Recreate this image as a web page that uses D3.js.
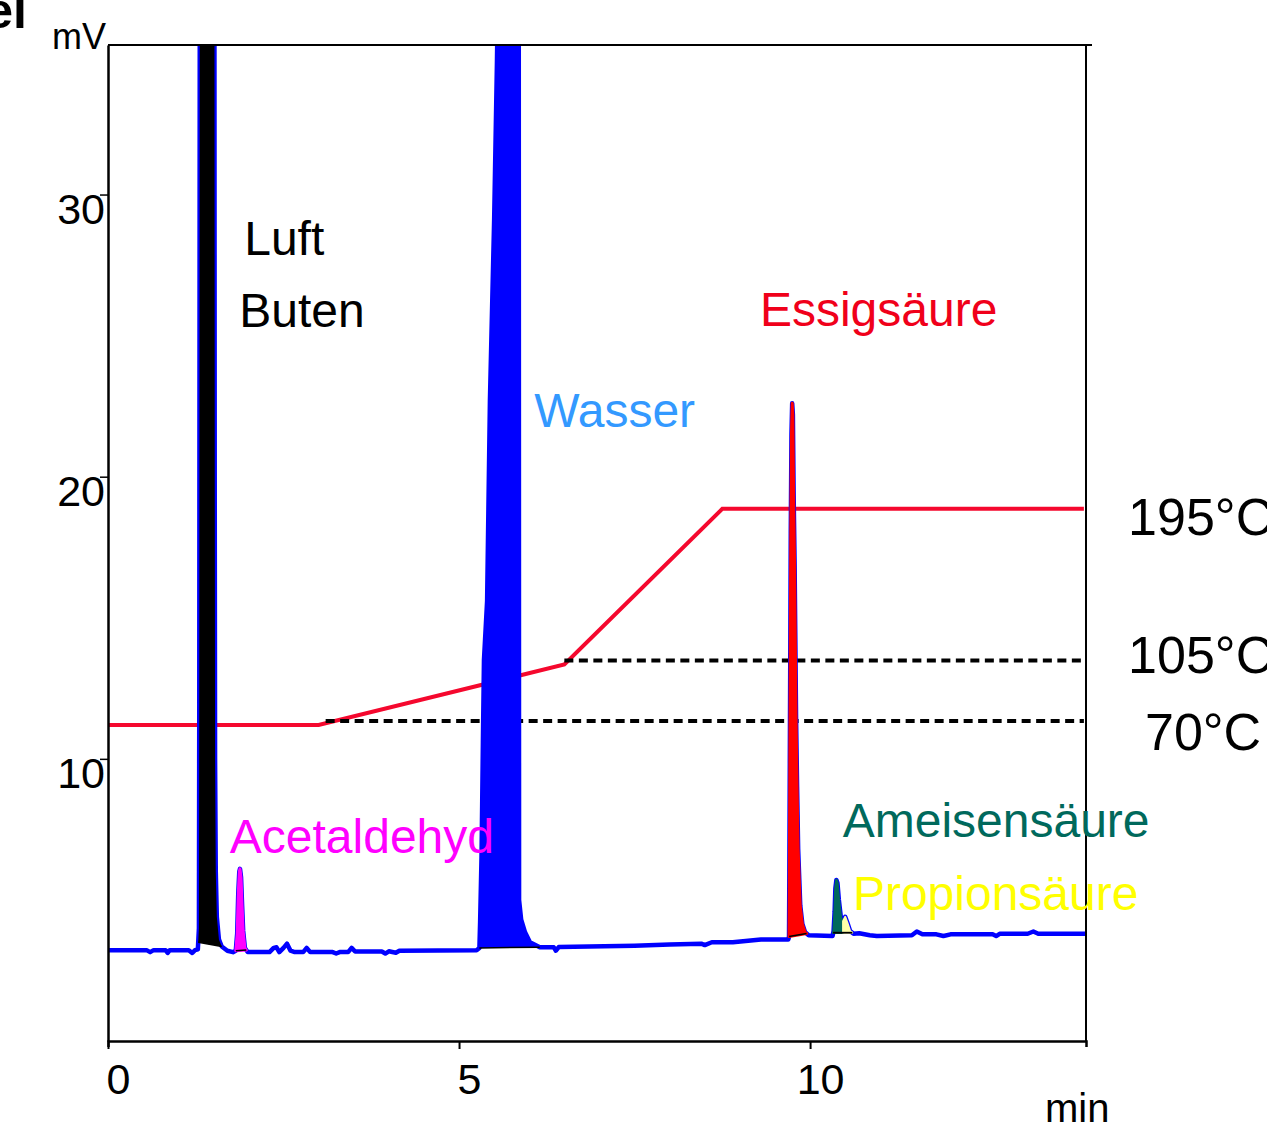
<!DOCTYPE html>
<html>
<head>
<meta charset="utf-8">
<script src="https://cdn.jsdelivr.net/npm/d3@7"></script>
<style>
body { margin: 0; background: #fff; }
svg { display: block; font-family: "Liberation Sans", Arial, sans-serif; }
</style>
</head>
<body>
<svg width="1267" height="1132"></svg>
<script>
// axis ticks
var xTicks = [0, 5, 10]
var yTicks = [10, 20, 30]

// detector signal, [min, mV]
var signal = [
	[0.00, 3.22], [0.55, 3.22], [0.60, 3.15], [0.65, 3.22], [0.82, 3.22], [0.85, 3.12], [0.88, 3.22],
	[1.15, 3.22], [1.20, 3.12], [1.24, 3.22], [1.28, 3.25],
	[1.295, 4.0], [1.30, 12], [1.305, 30], [1.31, 45], [1.33, 60], [1.50, 60], [1.515, 40], [1.52, 20],
	[1.525, 10], [1.535, 6], [1.55, 4.4], [1.58, 3.6], [1.62, 3.35], [1.70, 3.2], [1.78, 3.15],
	[1.82, 3.2], [1.84, 3.8], [1.855, 5.2], [1.87, 6.0], [1.88, 6.1], [1.895, 5.8], [1.91, 4.8],
	[1.925, 3.9], [1.95, 3.3], [1.99, 3.15],
	[2.30, 3.15], [2.36, 3.3], [2.40, 3.32], [2.44, 3.15], [2.50, 3.3], [2.55, 3.45], [2.60, 3.2],
	[2.66, 3.15], [2.78, 3.15], [2.83, 3.3], [2.88, 3.15], [3.20, 3.15], [3.25, 3.1], [3.30, 3.15],
	[3.42, 3.15], [3.47, 3.3], [3.52, 3.17], [3.90, 3.17], [3.95, 3.1], [4.00, 3.18], [4.10, 3.13],
	[4.15, 3.2], [5.25, 3.22],
	[5.29, 3.3], [5.30, 4.2], [5.32, 6.5], [5.33, 8.5], [5.34, 10.6], [5.355, 13.5], [5.40, 15.6],
	[5.44, 22.7], [5.50, 29.1], [5.54, 34.7], [5.57, 40], [5.85, 40], [5.855, 5.0], [5.885, 4.3],
	[5.94, 3.85], [6.01, 3.5], [6.15, 3.32],
	[6.35, 3.32], [6.38, 3.2], [6.42, 3.33], [7.50, 3.38], [8.00, 3.42], [8.45, 3.45], [8.50, 3.4],
	[8.60, 3.5], [8.90, 3.5], [9.30, 3.6], [9.60, 3.6], [9.69, 3.6],
	[9.70, 3.7], [9.705, 6], [9.715, 12], [9.725, 18], [9.735, 21.5], [9.745, 22.6], [9.755, 22.2],
	[9.765, 19.5], [9.78, 16.8], [9.80, 11.5], [9.815, 9], [9.83, 6.8], [9.86, 4.8], [9.89, 4.15],
	[9.93, 3.85], [9.98, 3.75], [10.32, 3.72],
	[10.335, 3.9], [10.35, 4.6], [10.36, 5.4], [10.375, 5.71], [10.39, 5.6], [10.41, 5.0], [10.44, 4.35],
	[10.47, 4.25], [10.50, 4.40], [10.53, 4.2], [10.57, 3.9], [10.62, 3.8], [10.70, 3.82],
	[10.85, 3.75], [10.95, 3.72], [11.45, 3.75], [11.52, 3.88], [11.60, 3.78], [11.80, 3.78],
	[11.90, 3.72], [12.00, 3.78], [12.60, 3.78], [12.65, 3.72], [12.70, 3.8], [13.10, 3.8],
	[13.18, 3.88], [13.25, 3.8], [13.93, 3.8]
]

// integrated peaks
var peakNames = ["Luft/Buten", "Acetaldehyd", "Wasser", "Essigsäure", "Ameisensäure", "Propionsäure"]
var peakStart = [1.285, 1.82, 5.29, 9.70, 10.33, 10.47]
var peakEnd = [1.62, 1.97, 6.15, 9.95, 10.47, 10.60]
var baseStart = [1.285, 1.82, 5.29, 9.70, 10.33, 10.33]
var baseEnd = [1.62, 1.97, 6.15, 9.95, 10.60, 10.60]

// oven program
var tempTimes = [0, 3, 6.5, 8.75, 13.9]
var tempValues = [70, 70, 105, 195, 195]
var holdTemps = [70, 105]
var holdFrom = [3.1, 6.5]
var tempLabels = ["195°C", "105°C", "70°C"]

// compound labels
var labelTexts = ["Luft", "Buten", "Wasser", "Essigsäure", "Acetaldehyd", "Ameisensäure", "Propionsäure"]

// styles / annotation placement
var peakFill = {"Luft/Buten": "#000000", "Acetaldehyd": "#ff00ff", "Wasser": "#0000ff",
	"Essigsäure": "#ff0000", "Ameisensäure": "#00695c", "Propionsäure": "#ffffa8"}
var peakEdge = {"Luft/Buten": 0, "Acetaldehyd": 3, "Wasser": 0, "Essigsäure": 3,
	"Ameisensäure": 2.5, "Propionsäure": 2}
var labelColor = {"Luft": "#000", "Buten": "#000", "Wasser": "#3399ff", "Essigsäure": "#f0001a",
	"Acetaldehyd": "#ff00ff", "Ameisensäure": "#00695c", "Propionsäure": "#ffff00"}
var labelAt = {"Luft": [1.94, 27.86], "Buten": [1.87, 25.31], "Wasser": [6.07, 21.76],
	"Essigsäure": [9.285, 25.34], "Acetaldehyd": [1.735, 6.66], "Ameisensäure": [10.465, 7.23],
	"Propionsäure": [10.61, 4.64]}
var tempLabelAt = {"195°C": [14.53, 17.93], "105°C": [14.53, 13.04], "70°C": [14.77, 10.31]}

var svg = d3.select("svg")
var padL = 108, padT = 45, padR = 1086, padB = 1041

var x = d3.scaleLinear().domain([0, 13.93]).range([padL, padR])
var y = d3.scaleLinear().domain([0, 35.3]).range([padB, padT])
// oven temperature drawn against the mV axis
var tScale = d3.scaleLinear().domain([70, 195]).range([11.2, 18.86])

var bis = d3.bisector(d => d[0]).left
function sig(t) {
	var i = bis(signal, t)
	if (i <= 0) return signal[0][1]
	if (i >= signal.length) return signal[signal.length - 1][1]
	var a = signal[i - 1], b = signal[i]
	return a[1] + (b[1] - a[1]) * (t - a[0]) / (b[0] - a[0])
}

svg.append("defs").append("clipPath").attr("id", "plot")
	.append("rect").attr("x", padL).attr("y", padT).attr("width", padR - padL).attr("height", padB - padT)

// temperature program + hold lines (underneath the peaks)
var tLine = d3.line().x(d => x(d[0])).y(d => y(tScale(d[1])))
svg.append("path")
	.attr("d", tLine(tempTimes.map((t, i) => [t, tempValues[i]])))
	.attr("fill", "none").attr("stroke", "#f5082e").attr("stroke-width", 4)

svg.selectAll(".hold").data(holdTemps).enter().append("line")
	.attr("class", "hold")
	.attr("x1", (d, i) => x(holdFrom[i])).attr("x2", x(13.9))
	.attr("y1", d => y(tScale(d)) - 4).attr("y2", d => y(tScale(d)) - 4)
	.attr("stroke", "#000").attr("stroke-width", 4).attr("stroke-dasharray", "9,5.5")

var g = svg.append("g").attr("clip-path", "url(#plot)")

var line = d3.line().x(d => x(d[0])).y(d => y(d[1]))
g.append("path").attr("d", line(signal))
	.attr("fill", "none").attr("stroke", "#0000ff").attr("stroke-width", 4.5).attr("stroke-linejoin", "round")

function baseAt(i, t) {
	var s0 = sig(baseStart[i]), s1 = sig(baseEnd[i])
	return s0 + (s1 - s0) * (t - baseStart[i]) / (baseEnd[i] - baseStart[i])
}

peakNames.forEach(function(name, i) {
	var pts = [[peakStart[i], sig(peakStart[i])]]
	signal.forEach(function(p) { if (p[0] > peakStart[i] && p[0] < peakEnd[i]) pts.push(p) })
	pts.push([peakEnd[i], sig(peakEnd[i])])
	pts.push([peakEnd[i], baseAt(i, peakEnd[i])])
	pts.push([peakStart[i], baseAt(i, peakStart[i])])
	g.append("path").attr("d", line(pts) + "Z").attr("fill", peakFill[name])
		.attr("stroke", peakFill[name]).attr("stroke-width", peakEdge[name]).attr("stroke-linejoin", "round")
})
peakNames.forEach(function(name, i) {
	g.append("line")
		.attr("x1", x(baseStart[i])).attr("y1", y(sig(baseStart[i])))
		.attr("x2", x(baseEnd[i])).attr("y2", y(sig(baseEnd[i])))
		.attr("stroke", "#000").attr("stroke-width", 1.5)
})

// frame
svg.append("line").attr("x1", padL).attr("x2", padR + 6).attr("y1", padT).attr("y2", padT)
	.attr("stroke", "#000").attr("stroke-width", 2)
svg.append("line").attr("x1", padR).attr("x2", padR).attr("y1", padT).attr("y2", padB)
	.attr("stroke", "#000").attr("stroke-width", 2)

var xAxis = svg.append("g").attr("transform", "translate(0," + padB + ")")
	.call(d3.axisBottom(x).tickValues(xTicks).tickSize(8).tickSizeOuter(6).tickFormat(d3.format("d")))
xAxis.select(".domain").attr("stroke-width", 2.5)
xAxis.selectAll(".tick line").attr("stroke-width", 2)
xAxis.selectAll("text").attr("dy", null).attr("y", 53).attr("x", 10)
	.attr("font-size", 43).attr("font-family", "Liberation Sans, Arial, sans-serif").attr("fill", "#000")

var yAxis = svg.append("g").attr("transform", "translate(" + padL + ",0)")
	.call(d3.axisLeft(y).tickValues(yTicks).tickSize(8).tickSizeOuter(0).tickFormat(d3.format("d")))
yAxis.select(".domain").attr("stroke-width", 2.5)
yAxis.selectAll(".tick line").attr("stroke-width", 1.5)
yAxis.selectAll("text").attr("dy", null).attr("y", 29).attr("x", -3)
	.attr("font-size", 43).attr("font-family", "Liberation Sans, Arial, sans-serif").attr("fill", "#000")

// axis units and title fragment
svg.append("text").attr("x", 52).attr("y", 49).attr("font-size", 36).text("mV")
svg.append("text").attr("x", 1045).attr("y", 1122).attr("font-size", 40).text("min")
svg.append("text").attr("x", 27).attr("y", 28).attr("text-anchor", "end")
	.attr("font-size", 50).attr("font-weight", "bold").text("el")

// compound labels
svg.selectAll(".lbl").data(labelTexts).enter().append("text")
	.attr("class", "lbl")
	.attr("x", d => x(labelAt[d][0])).attr("y", d => y(labelAt[d][1]))
	.attr("font-size", 48).attr("fill", d => labelColor[d])
	.text(d => d)

svg.selectAll(".tlbl").data(tempLabels).enter().append("text")
	.attr("class", "tlbl")
	.attr("x", d => x(tempLabelAt[d][0])).attr("y", d => y(tempLabelAt[d][1]))
	.attr("font-size", 52).attr("fill", "#000")
	.text(d => d)
</script>
</body>
</html>
